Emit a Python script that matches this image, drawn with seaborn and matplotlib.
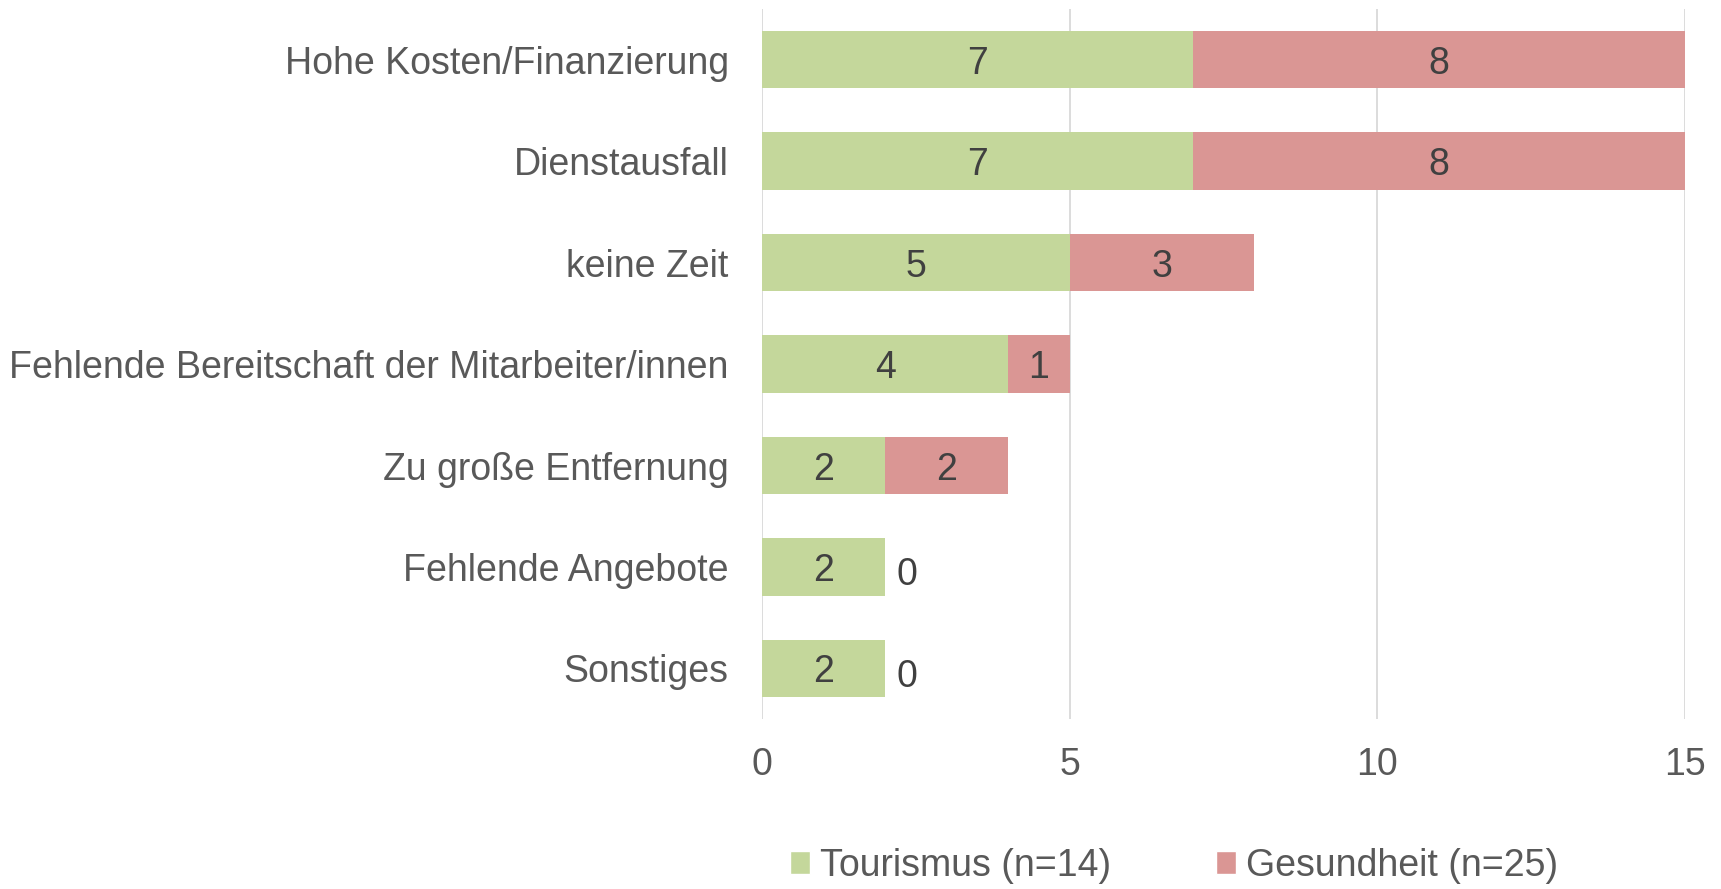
import matplotlib
matplotlib.use("Agg")
import matplotlib.pyplot as plt
import seaborn as sns
import pandas as pd
from matplotlib.patches import Patch

categories = ["Hohe Kosten/Finanzierung", "Dienstausfall", "keine Zeit",
              "Fehlende Bereitschaft der Mitarbeiter/innen", "Zu große Entfernung",
              "Fehlende Angebote", "Sonstiges"]
tourismus = [7, 7, 5, 4, 2, 2, 2]
gesundheit = [8, 8, 3, 1, 2, 0, 0]
series_names = ["Tourismus (n=14)", "Gesundheit (n=25)"]
xticks = [0, 5, 10, 15]

GREEN = "#C4D79B"
RED = "#DA9694"
FS = 27

sns.set_theme(style="white")
plt.rcParams['font.family'] = ['Liberation Sans', 'DejaVu Sans']

df = pd.DataFrame({"cat": categories, "tour": tourismus, "ges": gesundheit})
df["total"] = df["tour"] + df["ges"]

fig = plt.figure(figsize=(17.21, 8.89), dpi=100)
ax = fig.add_axes([0.4428, 0.191, 0.9790 - 0.4428, 0.99 - 0.191])

sns.barplot(data=df, y="cat", x="total", color=RED, orient="h", width=0.565,
            saturation=1, ax=ax, linewidth=0)
sns.barplot(data=df, y="cat", x="tour", color=GREEN, orient="h", width=0.565,
            saturation=1, ax=ax, linewidth=0)

label_color = "#404040"
for i, (t, g) in enumerate(zip(df["tour"], df["ges"])):
    ax.text(t / 2, i, str(t), ha="center", va="center_baseline", fontsize=FS, color=label_color)
    if g > 0:
        ax.text(t + g / 2, i, str(g), ha="center", va="center_baseline", fontsize=FS, color=label_color)
    else:
        ax.annotate(str(g), xy=(t, i), xytext=(8, -3), textcoords="offset points",
                    ha="left", va="center_baseline", fontsize=FS, color=label_color)

ax.set_xlim(0, 15)
ax.set_ylim(6.5, -0.5)
ax.set_xticks(xticks)
ax.set_xticklabels([str(x) for x in xticks])
ax.xaxis.grid(True, color="#D9D9D9", linewidth=1.3)
ax.set_axisbelow(True)
for s in ax.spines.values():
    s.set_visible(False)
ax.set_xlabel("")
ax.set_ylabel("")
ax.tick_params(axis="y", length=0, pad=24, labelsize=FS, labelcolor="#595959")
ax.tick_params(axis="x", length=0, pad=20, labelsize=FS, labelcolor="#595959")

handles = [Patch(facecolor=GREEN, label=series_names[0]),
           Patch(facecolor=RED, label=series_names[1])]
fig.legend(handles=handles, loc="lower center", bbox_to_anchor=(0.682, -0.032), ncol=2,
           frameon=False, fontsize=FS, labelcolor="#595959", handlelength=0.55,
           handleheight=0.55, handletextpad=0.25, columnspacing=2.8)

fig.savefig("out.png", dpi=100)
